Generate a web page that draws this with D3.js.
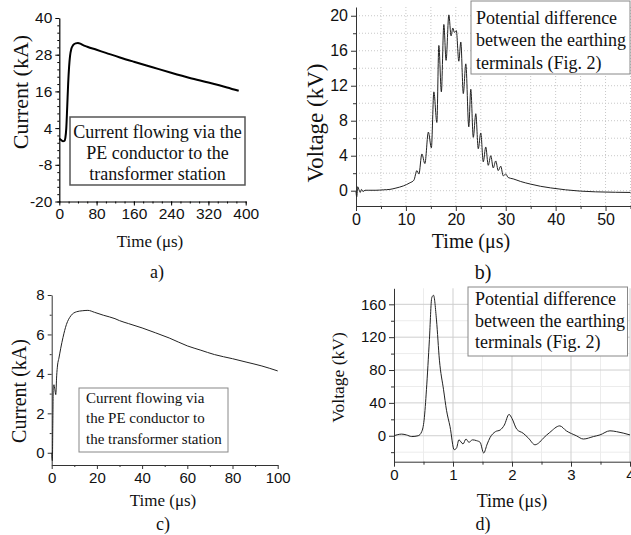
<!DOCTYPE html>
<html>
<head>
<meta charset="utf-8">
<script src="https://cdn.jsdelivr.net/npm/d3@7"></script>
<style>
body { margin: 0; background: #fff; }
svg { display: block; }
</style>
</head>
<body>
<div id="chart"></div>
<script>
// a) current in the PE conductor, long time scale
const aTime = [0, 4, 8, 11, 13, 15, 17, 19, 21, 23, 26, 30, 35, 40, 45, 50, 60, 80, 100, 130, 160, 200, 240, 280, 320, 360, 385];
const aCurrent = [0.6, 0.1, -0.3, -0.2, 0.8, 4.0, 11, 18.5, 24, 27.5, 30, 31.2, 31.7, 31.8, 31.6, 31.2, 30.6, 29.6, 28.6, 27.1, 25.7, 23.9, 22.1, 20.4, 18.9, 17.3, 16.2];
const aXTicks = [0, 80, 160, 240, 320, 400];
const aYTicks = [-20, -8, 4, 16, 28, 40];
const aLegend = ["Current flowing via the", "PE conductor to the", "transformer station"];

// b) potential difference between earthing terminals, 0-55 us
const bTime = [0, 0.15, 0.35, 0.6, 0.85, 1.1, 1.4, 1.8, 2.5, 4, 5.5, 6.8, 8, 9.5, 10.8, 11.6, 12.2, 12.6, 13.2, 13.8, 14.5, 15.1, 15.6, 16.2, 16.6, 17.1, 17.6, 18.05, 18.6, 19.05, 19.4, 19.7, 20.1, 20.6, 21.0, 21.5, 22.0, 22.6, 23.0, 23.5, 24.0, 24.5, 25.0, 25.5, 26.0, 26.5, 27.0, 27.5, 28.0, 28.5, 29.0, 29.5, 30.0, 30.5, 31.5, 33, 35, 37, 39, 42, 45, 48, 52, 55];
const bVoltage = [-0.1, -0.7, 0.45, 0.1, -0.2, 0.15, -0.1, 0.05, 0.05, 0.05, 0.1, 0.15, 0.3, 0.55, 0.9, 1.2, 2.3, 1.9, 4.2, 3.1, 6.7, 4.9, 11.3, 7.8, 16.6, 11.3, 19.0, 14.9, 20.1, 17.7, 18.6, 18.1, 18.3, 14.8, 17.0, 11.1, 14.5, 7.3, 11.6, 6.1, 8.8, 4.8, 6.6, 3.3, 5.0, 2.9, 4.0, 2.6, 3.4, 2.3, 2.8, 1.7, 1.9, 1.5, 1.35, 1.05, 0.75, 0.5, 0.32, 0.1, -0.05, -0.13, -0.18, -0.2];
const bXTicks = [0, 10, 20, 30, 40, 50];
const bYTicks = [0, 4, 8, 12, 16, 20];
const bLegend = ["Potential difference", "between the earthing", "terminals (Fig. 2)"];

// c) current in the PE conductor, 0-100 us
const cTime = [0, 0.3, 0.5, 0.7, 1.0, 1.4, 1.8, 2.2, 2.6, 3.2, 4, 5, 6.5, 8.5, 11, 13.5, 16, 19, 23, 28, 30, 34, 40, 46, 52, 60, 66, 72, 80, 86, 93, 100];
const cCurrent = [0, -0.4, 1.5, 3.3, 3.45, 3.2, 2.95, 3.9, 4.45, 4.8, 5.3, 5.85, 6.5, 6.95, 7.15, 7.2, 7.22, 7.12, 6.97, 6.8, 6.7, 6.55, 6.33, 6.08, 5.82, 5.42, 5.2, 4.98, 4.77, 4.6, 4.4, 4.15];
const cXTicks = [0, 20, 40, 60, 80, 100];
const cYTicks = [0, 2, 4, 6, 8];
const cLegend = ["Current flowing via", "the PE conductor to", "the transformer station"];

// d) potential difference, 0-4 us
const dTime = [0, 0.13, 0.21, 0.3, 0.41, 0.47, 0.51, 0.55, 0.6, 0.64, 0.67, 0.72, 0.77, 0.84, 0.89, 0.95, 1.02, 1.06, 1.1, 1.17, 1.22, 1.27, 1.33, 1.4, 1.46, 1.52, 1.58, 1.63, 1.72, 1.8, 1.87, 1.95, 2.0, 2.08, 2.19, 2.28, 2.39, 2.45, 2.53, 2.64, 2.81, 2.92, 3.09, 3.21, 3.38, 3.49, 3.66, 3.77, 4.0];
const dVoltage = [0, 2, 1, -1, 0, 5, 19, 56, 117, 168, 171, 141, 92, 56, 31, 11, -17, -15, -5, -10, -4, -8, -5, -6, -8, -21, -10, -2, 5, 7, 13, 26, 21, 8, 3, -3, -11, -9, -3, 4, 12, 6, 0, -4, -1, 1, 6, 5, 1];
const dXTicks = [0, 1, 2, 3, 4];
const dYTicks = [0, 40, 80, 120, 160];
const dLegend = ["Potential difference", "between the earthing", "terminals (Fig. 2)"];

const W = 631, H = 535;
const serif = "'Liberation Serif', 'Times New Roman', serif";
const sans = "'Liberation Sans', Arial, sans-serif";

const svg = d3.select("#chart")
    .append("svg")
    .attr("width", W)
    .attr("height", H);

function drawPanel(p) {
    const g = svg.append("g");
    const x = d3.scaleLinear().domain(p.xDomain).range(p.xRange);
    const y = d3.scaleLinear().domain(p.yDomain).range(p.yRange);
    const [x0, x1] = p.xRange, [y0, y1] = p.yRange;
    const fmt = d => String(d);

    // grid
    if (p.grid) {
        const gr = g.append("g");
        p.grid.forEach(gl => {
            gr.selectAll(null).data(gl.x || []).join("line")
                .attr("x1", d => x(d)).attr("x2", d => x(d))
                .attr("y1", y0).attr("y2", y1)
                .attr("stroke", gl.color).attr("stroke-width", 1)
                .attr("stroke-dasharray", gl.dash || null);
            gr.selectAll(null).data(gl.y || []).join("line")
                .attr("y1", d => y(d)).attr("y2", d => y(d))
                .attr("x1", x0).attr("x2", x1)
                .attr("stroke", gl.color).attr("stroke-width", 1)
                .attr("stroke-dasharray", gl.dash || null);
        });
    }

    // minor ticks
    g.append("g").attr("transform", `translate(0,${y0})`)
        .call(d3.axisBottom(x).tickValues(p.xMinor).tickSize(p.minorLen).tickSizeOuter(0).tickFormat(""))
        .call(a => a.select(".domain").remove());
    g.append("g").attr("transform", `translate(${x0},0)`)
        .call(d3.axisLeft(y).tickValues(p.yMinor).tickSize(p.minorLen).tickSizeOuter(0).tickFormat(""))
        .call(a => a.select(".domain").remove());

    // major axes
    const xa = g.append("g").attr("transform", `translate(0,${y0})`)
        .call(d3.axisBottom(x).tickValues(p.xTicks).tickFormat(fmt).tickSize(p.majorLen).tickSizeOuter(0).tickPadding(p.xPad));
    const ya = g.append("g").attr("transform", `translate(${x0},0)`)
        .call(d3.axisLeft(y).tickValues(p.yTicks).tickFormat(fmt).tickSize(p.majorLen).tickSizeOuter(0).tickPadding(p.yPad));
    [xa, ya].forEach(a => {
        a.attr("font-family", sans).attr("font-size", p.tickFont);
        a.selectAll("text").attr("fill", "#111");
        a.select(".domain").attr("stroke", p.axisColor).attr("stroke-width", p.axisWidth);
    });
    g.selectAll(".tick line").attr("stroke", p.axisColor);

    // curve
    const line = d3.line()
        .x((d, i) => x(p.t[i]))
        .y(d => y(d))
        .curve(d3.curveMonotoneX);
    g.append("path")
        .datum(p.v)
        .attr("d", line)
        .attr("fill", "none")
        .attr("stroke", p.lineColor)
        .attr("stroke-width", p.lineWidth)
        .attr("stroke-linejoin", "round");

    // legend box
    const L = p.legend;
    g.append("rect")
        .attr("x", L.x).attr("y", L.y).attr("width", L.w).attr("height", L.h)
        .attr("fill", "#fff").attr("stroke", L.stroke).attr("stroke-width", L.sw);
    g.selectAll(null).data(p.legendText).join("text")
        .attr("x", L.tx)
        .attr("y", (d, i) => L.ty + i * L.lh)
        .attr("text-anchor", L.anchor)
        .attr("font-family", serif)
        .attr("font-size", L.font)
        .attr("fill", "#111")
        .text(d => d);

    // axis titles
    g.append("text")
        .attr("transform", `translate(${p.yTitle.x},${p.yTitle.y}) rotate(-90)`)
        .attr("text-anchor", "middle")
        .attr("dominant-baseline", "central")
        .attr("font-family", serif)
        .attr("font-size", p.yTitle.size)
        .attr("fill", "#111")
        .text(p.yTitle.text);
    g.append("text")
        .attr("x", p.xTitle.x).attr("y", p.xTitle.y)
        .attr("text-anchor", "middle")
        .attr("font-family", serif)
        .attr("font-size", p.xTitle.size)
        .attr("fill", "#111")
        .text("Time (\u03bcs)");
    g.append("text")
        .attr("x", p.tag.x).attr("y", p.tag.y)
        .attr("text-anchor", "middle")
        .attr("font-family", serif)
        .attr("font-size", p.tag.size)
        .attr("fill", "#111")
        .text(p.tag.text);
}

drawPanel({
    t: aTime, v: aCurrent,
    xDomain: [0, 400], xRange: [59.3, 245.7],
    yDomain: [-20, 40], yRange: [201.5, 18],
    xTicks: aXTicks, yTicks: aYTicks,
    xMinor: d3.range(0, 401, 20), yMinor: d3.range(-20, 40.1, 2.4),
    majorLen: 4, minorLen: 2, xPad: 2, yPad: 3,
    tickFont: "15.5px", axisColor: "#000", axisWidth: 1.2,
    lineColor: "#000", lineWidth: 2,
    legendText: aLegend,
    legend: { x: 70, y: 117, w: 175, h: 68, stroke: "#555", sw: 1.5, tx: 157.5, ty: 137.5, lh: 21, anchor: "middle", font: "18px" },
    yTitle: { x: 20, y: 92, size: "22px", text: "Current (kA)" },
    xTitle: { x: 150, y: 247, size: "17px" },
    tag: { x: 157, y: 278, size: "18px", text: "a)" }
});

drawPanel({
    t: bTime, v: bVoltage,
    xDomain: [0, 55], xRange: [356, 630.5],
    yDomain: [-1.75, 21], yRange: [206, 7],
    xTicks: bXTicks, yTicks: bYTicks,
    xMinor: d3.range(5, 56, 10), yMinor: d3.range(2, 21, 4),
    majorLen: 5, minorLen: 3, xPad: 3, yPad: 3,
    tickFont: "16px", axisColor: "#333", axisWidth: 1,
    lineColor: "#222", lineWidth: 1,
    grid: [{ x: d3.range(5, 56, 5), y: d3.range(0, 21, 2), color: "#c8c8c8", dash: "1,2" }],
    legendText: bLegend,
    legend: { x: 471, y: 1, w: 159, h: 73, stroke: "#888", sw: 1, tx: 476, ty: 24, lh: 22.3, anchor: "start", font: "18px" },
    yTitle: { x: 315, y: 123, size: "23px", text: "Voltage (kV)" },
    xTitle: { x: 471, y: 248, size: "20px" },
    tag: { x: 483, y: 279, size: "20px", text: "b)" }
});

drawPanel({
    t: cTime, v: cCurrent,
    xDomain: [0, 100], xRange: [51.7, 277.7],
    yDomain: [-0.62, 8], yRange: [465, 295],
    xTicks: cXTicks, yTicks: cYTicks,
    xMinor: d3.range(10, 100, 20), yMinor: d3.range(1, 8, 2),
    majorLen: 4, minorLen: 2, xPad: 3, yPad: 3,
    tickFont: "15px", axisColor: "#333", axisWidth: 1,
    lineColor: "#222", lineWidth: 1,
    legendText: cLegend,
    legend: { x: 79, y: 388, w: 149, h: 64, stroke: "#888", sw: 1, tx: 86, ty: 403, lh: 20.3, anchor: "start", font: "15px" },
    yTitle: { x: 19, y: 391, size: "20px", text: "Current (kA)" },
    xTitle: { x: 163, y: 506, size: "17px" },
    tag: { x: 163, y: 530, size: "18px", text: "c)" }
});

drawPanel({
    t: dTime, v: dVoltage,
    xDomain: [0, 4], xRange: [394, 630],
    yDomain: [-31.6, 179.5], yRange: [461.7, 288.3],
    xTicks: dXTicks, yTicks: dYTicks,
    xMinor: d3.range(0.5, 4, 1), yMinor: d3.range(-20, 180, 40),
    majorLen: 5, minorLen: 3, xPad: 3, yPad: 3,
    tickFont: "15px", axisColor: "#333", axisWidth: 1,
    lineColor: "#222", lineWidth: 1,
    grid: [
        { x: d3.range(0.5, 4, 1), y: d3.range(-20, 180, 40), color: "#ececec" },
        { x: [1, 2, 3, 4], y: [0, 40, 80, 120, 160], color: "#cfcfcf" }
    ],
    legendText: dLegend,
    legend: { x: 468, y: 287, w: 159.5, h: 69, stroke: "#888", sw: 1, tx: 475, ty: 305, lh: 21.7, anchor: "start", font: "18px" },
    yTitle: { x: 338, y: 377.5, size: "17.5px", text: "Voltage (kV)" },
    xTitle: { x: 512, y: 507, size: "18px" },
    tag: { x: 483, y: 530, size: "18px", text: "d)" }
});
</script>
</body>
</html>
